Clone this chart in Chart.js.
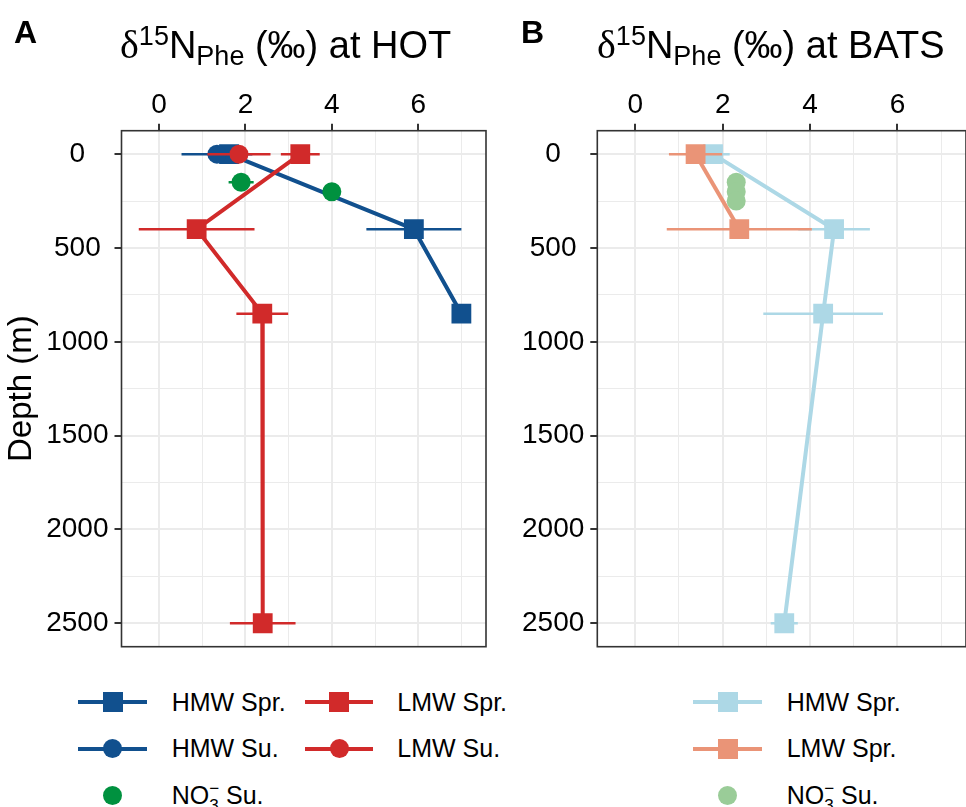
<!DOCTYPE html>
<html><head><meta charset="utf-8">
<script src="https://cdn.jsdelivr.net/npm/chart.js@4/dist/chart.umd.min.js"></script>
<style>
html,body{margin:0;padding:0;background:#fff;}
body{width:966px;height:807px;overflow:hidden;position:relative;font-family:"Liberation Sans",Arial,sans-serif;color:#000;}
canvas{position:absolute;top:0;}
.tag{position:absolute;font-weight:bold;font-size:32px;line-height:1;}
.ttl{position:absolute;font-size:38px;line-height:1;white-space:nowrap;}
.ttl .d{font-family:"Liberation Serif","DejaVu Serif",serif;font-size:40px;}
.ttl .sp{font-size:27px;position:relative;top:-13px;}
.ttl .sb{font-size:27px;position:relative;top:7px;}
.lg{position:absolute;font-size:25px;line-height:1;white-space:nowrap;}
.lg .s3{font-size:17px;position:relative;top:7px;}
.lg .sm{font-size:17px;position:relative;top:-10px;margin-left:-9.5px;}
.ln{position:absolute;height:4px;}
.sq{position:absolute;width:20px;height:20px;}
.ci{position:absolute;width:19px;height:19px;border-radius:50%;}
</style></head>
<body>
<canvas id="cA" width="500" height="662" style="left:0"></canvas>
<canvas id="cB" width="480" height="662" style="left:500px"></canvas>
<div class="tag" style="left:14px;top:16px">A</div>
<div class="tag" style="left:521px;top:16px">B</div>
<div class="ttl" style="left:120px;top:24.8px"><span class="d">δ</span><span class="sp">15</span>N<span class="sb">Phe</span> (‰) at HOT</div>
<div class="ttl" style="left:597px;top:24.8px"><span class="d">δ</span><span class="sp">15</span>N<span class="sb">Phe</span> (‰) at BATS</div>
<div id="legends"></div>
<script>
// ---- axis ticks ----
const xMajorTicks = [0, 2, 4, 6];
const xMinorTicks = [1, 3, 5, 7];
const yMajorTicks = [0, 500, 1000, 1500, 2000, 2500];
const yMinorTicks = [250, 750, 1250, 1750, 2250];

// ---- HOT (panel A) ----
const hotHmwSprDepth = [0, 400, 850];
const hotHmwSprVal   = [1.62, 5.9, 7.0];
const hotHmwSprErr   = [0.3, 1.1, 0];

const hotHmwSuDepth = [0];
const hotHmwSuVal   = [1.34];
const hotHmwSuErr   = [0.82];

const hotLmwSprDepth = [0, 400, 850, 2500];
const hotLmwSprVal   = [3.27, 0.87, 2.39, 2.40];
const hotLmwSprErr   = [0.45, 1.34, 0.6, 0.76];

const hotLmwSuDepth = [0];
const hotLmwSuVal   = [1.85];
const hotLmwSuErr   = [0.73];

const hotNo3SuDepth = [150, 200];
const hotNo3SuVal   = [1.9, 4.0];
const hotNo3SuErr   = [0.29, 0];

// ---- BATS (panel B) ----
const batsHmwSprDepth = [0, 400, 850, 2500];
const batsHmwSprVal   = [1.78, 4.55, 4.30, 3.41];
const batsHmwSprErr   = [0.38, 0.82, 1.37, 0.31];

const batsLmwSprDepth = [0, 400];
const batsLmwSprVal   = [1.38, 2.38];
const batsLmwSprErr   = [0.61, 1.66];

const batsNo3SuDepth = [150, 200, 250];
const batsNo3SuVal   = [2.31, 2.31, 2.31];
const batsNo3SuErr   = [0, 0, 0];

const C_HMW = '#11508E', C_LMW = '#D12A2A', C_NO3 = '#00913F';
const C_HMW_B = '#ADD8E6', C_LMW_B = '#EA9477', C_NO3_B = '#9ACC98';

function series(label, depth, val, err, color, shape, line, order) {
  return {
    label, order,
    data: depth.map((d, i) => ({x: val[i], y: d})),
    errX: err,
    showLine: line,
    borderColor: color,
    backgroundColor: color,
    borderWidth: 4,
    pointStyle: shape,
    pointRadius: shape === 'rect' ? 14 : 9.5,
    pointHoverRadius: shape === 'rect' ? 14 : 9.5,
    pointBackgroundColor: color,
    pointBorderWidth: 0,
    pointHoverBorderWidth: 0,
    fill: false,
    tension: 0
  };
}

const errorBarPlugin = {
  id: 'errbars',
  beforeDatasetDraw(chart, args) {
    const ds = chart.data.datasets[args.index];
    if (!ds.errX) return;
    const xs = chart.scales.x, ys = chart.scales.y, ctx = chart.ctx, a = chart.chartArea;
    ctx.save();
    ctx.beginPath(); ctx.rect(a.left, a.top, a.right - a.left, a.bottom - a.top); ctx.clip();
    ctx.strokeStyle = ds.borderColor; ctx.lineWidth = 2.5; ctx.lineCap = 'butt';
    ds.data.forEach((p, i) => {
      const e = ds.errX[i]; if (!e) return;
      const y = ys.getPixelForValue(p.y);
      ctx.beginPath();
      ctx.moveTo(xs.getPixelForValue(p.x - e), y);
      ctx.lineTo(xs.getPixelForValue(p.x + e), y);
      ctx.stroke();
    });
    ctx.restore();
  }
};
const borderPlugin = {
  id: 'panelBorder',
  afterDraw(chart) {
    const a = chart.chartArea, ctx = chart.ctx;
    ctx.save(); ctx.strokeStyle = '#333333'; ctx.lineWidth = 1.6;
    ctx.strokeRect(a.left, a.top, a.right - a.left, a.bottom - a.top);
    ctx.restore();
  }
};

const FONT = "'Liberation Sans', Arial, sans-serif";
function makeChart(id, datasets, yWidth, rightPad, showYTitle) {
  return new Chart(document.getElementById(id), {
    type: 'scatter',
    data: {datasets},
    options: {
      responsive: false, animation: false, devicePixelRatio: 1,
      events: [],
      layout: {padding: {left: 0, right: rightPad, top: 0, bottom: 15.3}},
      plugins: {legend: {display: false}, tooltip: {enabled: false}, title: {display: false}},
      scales: {
        x: {
          type: 'linear', position: 'top', min: -0.87, max: 7.57,
          afterBuildTicks: s => { s.ticks = xMajorTicks.concat(xMinorTicks).sort((a,b)=>a-b).map(v => ({value: v})); },
          afterFit: s => { s.height = 130.7; s.paddingLeft = 0; s.paddingRight = 0; },
          ticks: {font: {family: FONT, size: 28}, color: '#000', padding: 2, maxRotation: 0, autoSkip: false,
                  callback: v => xMajorTicks.includes(v) ? String(v) : ''},
          grid: {color: '#EBEBEB',
                 lineWidth: c => (c.tick && xMajorTicks.includes(c.tick.value)) ? 2 : 1,
                 tickLength: 7,
                 tickColor: c => (c.tick && xMajorTicks.includes(c.tick.value)) ? '#333333' : 'rgba(0,0,0,0)',
                 tickWidth: 2},
          border: {display: false}
        },
        y: {
          type: 'linear', reverse: true, min: -125, max: 2625,
          afterBuildTicks: s => { s.ticks = yMajorTicks.concat(yMinorTicks).sort((a,b)=>a-b).map(v => ({value: v})); },
          afterFit: s => { s.width = yWidth; s.paddingTop = 0; s.paddingBottom = 0; },
          ticks: {font: {family: FONT, size: 28}, color: '#000', padding: 6, crossAlign: 'center', autoSkip: false,
                  callback: v => yMajorTicks.includes(v) ? String(v) : ''},
          grid: {color: '#EBEBEB',
                 lineWidth: c => (c.tick && yMajorTicks.includes(c.tick.value)) ? 2 : 1,
                 tickLength: 7,
                 tickColor: c => (c.tick && yMajorTicks.includes(c.tick.value)) ? '#333333' : 'rgba(0,0,0,0)',
                 tickWidth: 2},
          border: {display: false},
          title: {display: showYTitle, text: 'Depth (m)', color: '#000', font: {family: FONT, size: 33}, padding: {top: 2, bottom: 0}}
        }
      }
    },
    plugins: [errorBarPlugin, borderPlugin]
  });
}

makeChart('cA', [
  series('NO3 Su.', hotNo3SuDepth, hotNo3SuVal, hotNo3SuErr, C_NO3, 'circle', false, 0),
  series('LMW Su.', hotLmwSuDepth, hotLmwSuVal, hotLmwSuErr, C_LMW, 'circle', true, 1),
  series('LMW Spr.', hotLmwSprDepth, hotLmwSprVal, hotLmwSprErr, C_LMW, 'rect', true, 2),
  series('HMW Su.', hotHmwSuDepth, hotHmwSuVal, hotHmwSuErr, C_HMW, 'circle', true, 3),
  series('HMW Spr.', hotHmwSprDepth, hotHmwSprVal, hotHmwSprErr, C_HMW, 'rect', true, 4)
], 121.5, 10.5, true);

makeChart('cB', [
  series('NO3 Su.', batsNo3SuDepth, batsNo3SuVal, batsNo3SuErr, C_NO3_B, 'circle', false, 0),
  series('LMW Spr.', batsLmwSprDepth, batsLmwSprVal, batsLmwSprErr, C_LMW_B, 'rect', true, 1),
  series('HMW Spr.', batsHmwSprDepth, batsHmwSprVal, batsHmwSprErr, C_HMW_B, 'rect', true, 2)
], 97.3, 12.4, false);

// ---- legends (HTML text) ----
const legendItems = [
  {x1: 78, x2: 147, cx: 112.7, tx: 171.7, cy: 702.3, color: C_HMW, shape: 'sq', line: true, html: 'HMW Spr.'},
  {x1: 305, x2: 372.7, cx: 339, tx: 397.3, cy: 702.3, color: C_LMW, shape: 'sq', line: true, html: 'LMW Spr.'},
  {x1: 78, x2: 147, cx: 112.7, tx: 171.7, cy: 748.5, color: C_HMW, shape: 'ci', line: true, html: 'HMW Su.'},
  {x1: 305, x2: 372.7, cx: 339, tx: 397.3, cy: 748.5, color: C_LMW, shape: 'ci', line: true, html: 'LMW Su.'},
  {x1: 78, x2: 147, cx: 112.7, tx: 171.7, cy: 795, color: C_NO3, shape: 'ci', line: false, html: 'NO<span class="s3">3</span><span class="sm">−</span> Su.'},
  {x1: 693.3, x2: 761.7, cx: 727.5, tx: 786.7, cy: 702.3, color: C_HMW_B, shape: 'sq', line: true, html: 'HMW Spr.'},
  {x1: 693.3, x2: 761.7, cx: 727.5, tx: 786.7, cy: 748.5, color: C_LMW_B, shape: 'sq', line: true, html: 'LMW Spr.'},
  {x1: 693.3, x2: 761.7, cx: 727.5, tx: 786.7, cy: 795, color: C_NO3_B, shape: 'ci', line: false, html: 'NO<span class="s3">3</span><span class="sm">−</span> Su.'}
];
const lg = document.getElementById('legends');
legendItems.forEach(it => {
  let h = '';
  if (it.line) h += `<div class="ln" style="left:${it.x1}px;width:${it.x2 - it.x1}px;top:${it.cy - 2}px;background:${it.color}"></div>`;
  if (it.shape === 'sq') h += `<div class="sq" style="left:${it.cx - 10}px;top:${it.cy - 10}px;background:${it.color}"></div>`;
  else h += `<div class="ci" style="left:${it.cx - 9.5}px;top:${it.cy - 9.5}px;background:${it.color}"></div>`;
  h += `<div class="lg" style="left:${it.tx}px;top:${it.cy - 12.2}px">${it.html}</div>`;
  lg.insertAdjacentHTML('beforeend', h);
});
</script>
</body></html>
